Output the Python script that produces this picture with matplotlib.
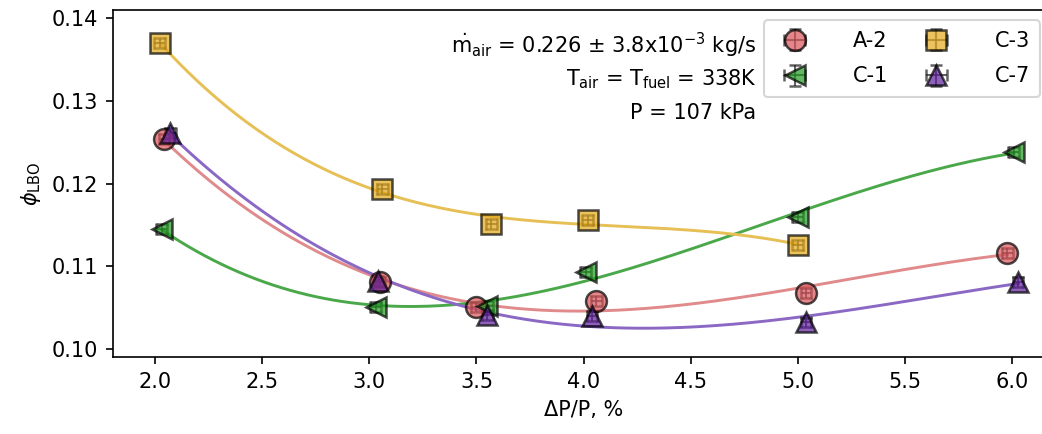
"""
LBO equivalence ratio vs pressure drop for four fuels.
"""
import numpy as np
import matplotlib
matplotlib.use("Agg")
import matplotlib.pyplot as plt

# ------------------ DATA ------------------
fuels = ["A-2", "C-1", "C-3", "C-7"]

dp_a2 = [2.04, 3.05, 3.50, 4.06, 5.04, 5.98]
phi_a2 = [0.1254, 0.1081, 0.1051, 0.1058, 0.1068, 0.1116]

dp_c1 = [2.03, 3.03, 3.55, 4.01, 5.00, 6.01]
phi_c1 = [0.1145, 0.1051, 0.1052, 0.1093, 0.1160, 0.1238]

dp_c3 = [2.02, 3.06, 3.57, 4.02, 5.00]
phi_c3 = [0.1370, 0.1194, 0.1151, 0.1156, 0.1126]

dp_c7 = [2.07, 3.04, 3.55, 4.04, 5.04, 6.03]
phi_c7 = [0.1261, 0.1082, 0.1041, 0.1040, 0.1032, 0.1081]

x_err = 0.025
y_err = 0.0006
# ----------------------------------------------------------------

series = {
    "A-2": (dp_a2, phi_a2, "o", "#d9545a", "#e08a8c"),
    "C-1": (dp_c1, phi_c1, "<", "#229a22", "#4aa84a"),
    "C-3": (dp_c3, phi_c3, "s", "#e2a81a", "#e6bf55"),
    "C-7": (dp_c7, phi_c7, "^", "#5e1f9a", "#8a68c4"),
}

fig = plt.figure(figsize=(1042 / 150, 434 / 150), dpi=150)
# axes runs slightly past the right edge of the figure (cropped original)
ax = fig.add_axes([0.108, 0.177, 0.905, 0.800])

for name in fuels:
    x, y, mk, mcol, lcol = series[name]
    # cubic fit through the points for the trend curve
    coef = np.polyfit(x, y, 3)
    xs = np.linspace(min(x), max(x), 200)
    ax.plot(xs, np.polyval(coef, xs), color=lcol, lw=1.4, zorder=2)
    ax.errorbar(x, y, xerr=x_err, yerr=y_err, fmt=mk, ms=10,
                mfc=mcol, mec="black", mew=1.2, alpha=0.7,
                ecolor="#222222", elinewidth=1.0, capsize=3,
                label=name, zorder=3)

ax.set_xlim(1.80, 6.205)
ax.set_ylim(0.099, 0.141)
ax.set_xticks(np.arange(2.0, 6.01, 0.5))
ax.set_yticks([0.10, 0.11, 0.12, 0.13, 0.14])
ax.set_yticklabels(["0.10", "0.11", "0.12", "0.13", "0.14"])
ax.tick_params(labelsize=10)
ax.set_xlabel("ΔP/P, %", fontsize=10)
ax.set_ylabel(r"$\phi_{\mathrm{LBO}}$", fontsize=10)

tx = 0.683
ax.text(tx, 0.899, r"$\dot{\mathrm{m}}_{\mathrm{air}}$ = 0.226 ± 3.8x10$^{-3}$ kg/s",
        transform=ax.transAxes, ha="right", va="center", fontsize=10)
ax.text(tx, 0.800, r"T$_{\mathrm{air}}$ = T$_{\mathrm{fuel}}$ = 338K",
        transform=ax.transAxes, ha="right", va="center", fontsize=10)
ax.text(tx, 0.703, "P = 107 kPa",
        transform=ax.transAxes, ha="right", va="center", fontsize=10)

ax.legend(loc="upper right", ncol=2, fontsize=10, columnspacing=1.3,
          handletextpad=1.8, labelspacing=0.75, borderpad=0.5,
          bbox_to_anchor=(0.995, 1.0))

fig.savefig("out.png", dpi=150)
